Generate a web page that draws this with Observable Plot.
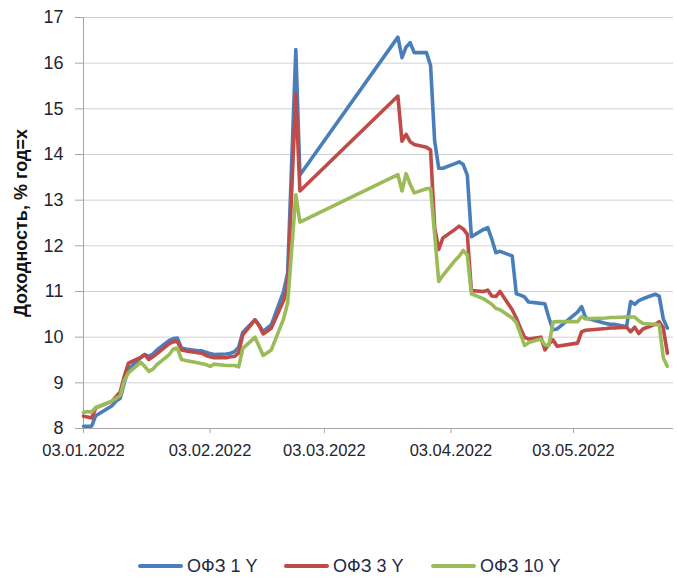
<!DOCTYPE html>
<html>
<head>
<meta charset="utf-8">
<script src="https://cdn.jsdelivr.net/npm/d3@7"></script>
<script src="https://cdn.jsdelivr.net/npm/@observablehq/plot@0.6"></script>
<style>
  html, body { margin: 0; padding: 0; background: #fff; overflow: hidden; }
  body { width: 677px; height: 577px; font-family: "Liberation Sans", Arial, sans-serif; }
  #legend { position: relative; height: 32px; }
  .item { position: absolute; top: 10px; display: flex; align-items: center; font-size: 18px; color: #1f2a44; height: 22px; }
  .swatch { display: inline-block; width: 45px; height: 4px; border-radius: 2px; margin-right: 4px; }
</style>
</head>
<body>
<div id="chart"></div>
<div id="legend"></div>
<script>
// ---------- data ----------
const dates = [
  "2022-01-03","2022-01-04","2022-01-05","2022-01-06","2022-01-10","2022-01-11","2022-01-12","2022-01-13","2022-01-14",
  "2022-01-17","2022-01-18","2022-01-19","2022-01-20","2022-01-21",
  "2022-01-24","2022-01-25","2022-01-26","2022-01-27","2022-01-28",
  "2022-01-31","2022-02-01","2022-02-02","2022-02-03","2022-02-04",
  "2022-02-07","2022-02-08","2022-02-09","2022-02-10","2022-02-11",
  "2022-02-14","2022-02-15","2022-02-16","2022-02-17","2022-02-18",
  "2022-02-21","2022-02-22","2022-02-24","2022-02-25",
  "2022-03-21","2022-03-22","2022-03-23","2022-03-24","2022-03-25",
  "2022-03-28","2022-03-29","2022-03-30","2022-03-31","2022-04-01",
  "2022-04-04","2022-04-05","2022-04-06","2022-04-07","2022-04-08",
  "2022-04-11","2022-04-12","2022-04-13","2022-04-14","2022-04-15",
  "2022-04-18","2022-04-19","2022-04-20","2022-04-21","2022-04-22",
  "2022-04-25","2022-04-26","2022-04-27","2022-04-28","2022-04-29",
  "2022-05-04","2022-05-05","2022-05-06",
  "2022-05-11","2022-05-12","2022-05-13",
  "2022-05-16","2022-05-17","2022-05-18","2022-05-19","2022-05-20",
  "2022-05-23","2022-05-24","2022-05-25","2022-05-26"
];
const ofz1 = [
  8.05, 8.05, 8.05, 8.28, 8.50, 8.60, 8.66, 9.00, 9.30,
  9.55, 9.62, 9.58, 9.63, 9.72,
  9.93, 9.97, 9.98, 9.76, 9.74,
  9.70, 9.70, 9.67, 9.64, 9.62,
  9.63, 9.65, 9.68, 9.78, 10.10,
  10.38, 10.27, 10.12, 10.20, 10.27,
  11.00, 11.40, 16.30, 13.55,
  16.57, 16.12, 16.35, 16.45, 16.23,
  16.23, 15.95, 14.30, 13.70, 13.70,
  13.80, 13.84, 13.78, 13.55, 12.20,
  12.36, 12.40, 12.15, 11.85, 11.88,
  11.78, 10.95, 10.92, 10.88, 10.77,
  10.74, 10.73, 10.42, 10.16, 10.18,
  10.55, 10.67, 10.42,
  10.30, 10.28, 10.28,
  10.23, 10.78, 10.72, 10.80, 10.84,
  10.94, 10.90, 10.40, 10.20
];
const ofz3 = [
  8.27, 8.25, 8.23, 8.45, 8.60, 8.70, 8.80, 9.15, 9.43,
  9.56, 9.62, 9.51, 9.57, 9.64,
  9.86, 9.90, 9.90, 9.72, 9.70,
  9.66, 9.65, 9.60, 9.57, 9.55,
  9.55, 9.57, 9.58, 9.65, 10.05,
  10.38, 10.25, 10.07, 10.13, 10.20,
  10.80, 11.10, 15.32, 13.20,
  15.28, 14.29, 14.44, 14.28, 14.22,
  14.16, 14.10, 12.40, 11.92, 12.17,
  12.36, 12.43, 12.37, 12.25, 11.02,
  11.00, 11.03, 10.90, 10.89, 11.00,
  10.60, 10.42, 10.20, 10.00, 9.96,
  10.00, 9.72, 9.85, 9.94, 9.80,
  9.87, 10.12, 10.15,
  10.19, 10.20, 10.20,
  10.22, 10.12, 10.22, 10.08, 10.18,
  10.28, 10.34, 10.20, 9.65
];
const ofz10 = [
  8.35, 8.37, 8.36, 8.46, 8.60, 8.66, 8.72, 9.05, 9.22,
  9.45, 9.36, 9.25, 9.30, 9.40,
  9.62, 9.74, 9.76, 9.51, 9.49,
  9.44, 9.42, 9.40, 9.36, 9.41,
  9.38, 9.38, 9.38, 9.35, 9.75,
  10.00, 9.80, 9.60, 9.66, 9.72,
  10.40, 10.75, 13.12, 12.52,
  13.56, 13.20, 13.58, 13.35, 13.16,
  13.25, 13.26, 12.25, 11.22, 11.35,
  11.68, 11.77, 11.90, 11.80, 10.95,
  10.84, 10.78, 10.72, 10.63, 10.60,
  10.42, 10.32, 10.08, 9.82, 9.88,
  9.96, 9.83, 9.82, 10.33, 10.34,
  10.34, 10.45, 10.40,
  10.42, 10.43, 10.43,
  10.44, 10.44, 10.44, 10.36, 10.30,
  10.28, 10.27, 9.55, 9.36
];
const seriesNames = ["ОФЗ 1 Y", "ОФЗ 3 Y", "ОФЗ 10 Y"];
const seriesColors = ["#4a7ebb", "#be4b48", "#9bbb59"];
const xTickDates = ["2022-01-03","2022-02-03","2022-03-03","2022-04-03","2022-05-03"];
const yTicks = [8, 9, 10, 11, 12, 13, 14, 15, 16, 17];
const yTitle = "Доходность, % год=х";
const xStart = "2022-01-03";
const xEnd = "2022-05-27T12:00";

// ---------- build ----------
const parse = s => new Date(s.length > 10 ? s + "Z" : s + "T00:00Z");
const allValues = [ofz1, ofz3, ofz10];
const rows = seriesNames.map((name, i) =>
  dates.map((d, j) => ({date: parse(d), value: allValues[i][j], series: name}))
);
const fmt = d3.utcFormat("%d.%m.%Y");
const axisGray = "#a6a6a6";
const textColor = "#1f2430";

const chart = Plot.plot({
  width: 677,
  height: 545,
  marginLeft: 83,
  marginRight: 4,
  marginTop: 17,
  marginBottom: 117,
  style: {fontFamily: "'Liberation Sans', Arial, sans-serif", background: "#fff"},
  x: {type: "utc", domain: [parse(xStart), parse(xEnd)], label: null},
  y: {domain: [8, 17], label: null},
  marks: [
    Plot.gridY(yTicks.filter(v => v > 8), {stroke: "#d0d0d0", strokeOpacity: 1, strokeWidth: 1}),
    Plot.ruleY([8], {stroke: axisGray, strokeWidth: 1}),
    Plot.ruleX([parse(xStart)], {stroke: axisGray, strokeWidth: 1}),
    Plot.axisY(yTicks, {anchor: "left", tickSize: 8, tickPadding: 12, fontSize: 18, stroke: axisGray, fill: textColor, label: null}),
    Plot.axisX(xTickDates.map(parse), {anchor: "bottom", tickSize: 5, tickPadding: 11, fontSize: 16.5, tickFormat: fmt, stroke: axisGray, fill: textColor, label: null}),
    Plot.text([yTitle], {frameAnchor: "left", textAnchor: "middle", dx: -62, rotate: -90, fontSize: 18, fontWeight: "bold", fill: "#111", text: d => d}),
    ...rows.map((r, i) => Plot.line(r, {x: "date", y: "value", stroke: seriesColors[i], strokeWidth: 3.6, strokeLinejoin: "round", strokeLinecap: "round"}))
  ]
});
document.getElementById("chart").appendChild(chart);

// ---------- legend ----------
const legend = document.getElementById("legend");
const lefts = [138, 284, 431];
seriesNames.forEach((name, i) => {
  const item = document.createElement("div");
  item.className = "item";
  item.style.left = lefts[i] + "px";
  const sw = document.createElement("span");
  sw.className = "swatch";
  sw.style.background = seriesColors[i];
  const tx = document.createElement("span");
  tx.textContent = name;
  item.appendChild(sw);
  item.appendChild(tx);
  legend.appendChild(item);
});
</script>
</body>
</html>
